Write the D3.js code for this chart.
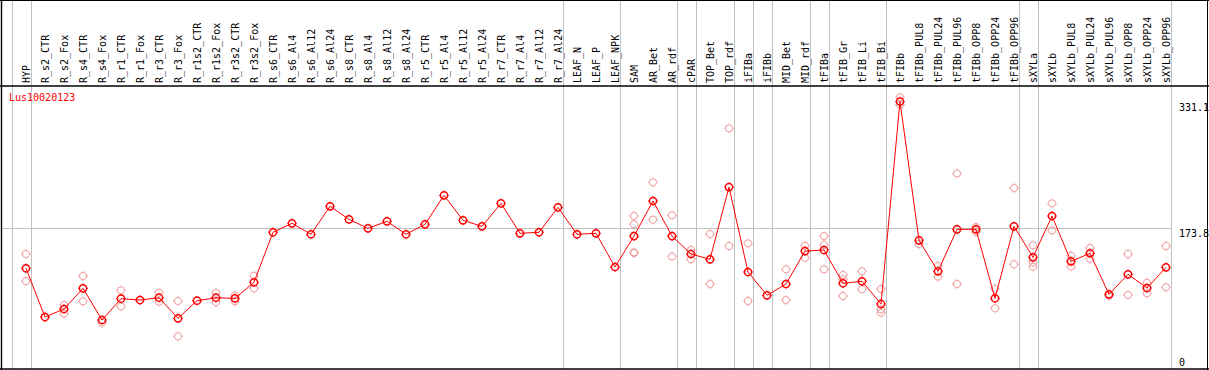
<!DOCTYPE html>
<html lang="en">
<head>
  <meta charset="UTF-8">
  <script src="https://d3js.org/d3.v7.min.js"></script>
  <title>Lus10020123</title>
  <style>
    body { margin: 0; background: #fff; }
    text { font-family: "DejaVu Sans Mono", monospace; font-size: 10px; }
  </style>
</head>
<body>
<script>
  // sample names (columns)
  let categories = ['HYP', 'R_s2_CTR', 'R_s2_Fox', 'R_s4_CTR', 'R_s4_Fox', 'R_r1_CTR', 'R_r1_Fox',
    'R_r3_CTR', 'R_r3_Fox', 'R_r1s2_CTR', 'R_r1s2_Fox', 'R_r3s2_CTR', 'R_r3s2_Fox',
    'R_s6_CTR', 'R_s6_Al4', 'R_s6_Al12', 'R_s6_Al24', 'R_s8_CTR', 'R_s8_Al4', 'R_s8_Al12', 'R_s8_Al24',
    'R_r5_CTR', 'R_r5_Al4', 'R_r5_Al12', 'R_r5_Al24', 'R_r7_CTR', 'R_r7_Al4', 'R_r7_Al12', 'R_r7_Al24',
    'LEAF_N', 'LEAF_P', 'LEAF_NPK', 'SAM', 'AR_Bet', 'AR_rdf', 'cPAR', 'TOP_Bet', 'TOP_rdf',
    'iFIBa', 'iFIBb', 'MID_Bet', 'MID_rdf', 'tFIBa', 'tFIB_Gr', 'tFIB_Li', 'tFIB_Bi',
    'tFIBb', 'tFIBb_PUL8', 'tFIBb_PUL24', 'tFIBb_PUL96', 'tFIBb_OPP8', 'tFIBb_OPP24', 'tFIBb_OPP96',
    'sXYLa', 'sXYLb', 'sXYLb_PUL8', 'sXYLb_PUL24', 'sXYLb_PUL96', 'sXYLb_OPP8', 'sXYLb_OPP24', 'sXYLb_OPP96']

  // mean expression
  let means = [123.1, 62.3, 72.3, 98.1, 58.6, 85.2, 83.5, 86.4, 60.7, 82.7, 86.4, 85.6, 105.6,
    168.0, 179.2, 165.5, 200.4, 184.1, 172.9, 181.7, 165.5, 177.9, 214.1, 182.9, 175.4,
    204.1, 166.7, 168.0, 199.1, 165.5, 166.7, 124.7, 163.3, 207.0, 163.3, 140.9, 134.3, 224.4,
    118.5, 89.4, 103.5, 144.6, 145.9, 104.4, 106.9, 78.6,
    331.1, 158.0, 119.3, 171.7, 171.7, 85.7, 175.4,
    136.8, 188.3, 131.8, 141.8, 90.6, 115.6, 98.5, 124.3]

  // replicate values
  let replicates = [[140.9, 107.2], [], [77.3, 66.5], [113.5, 81.9], [55.2], [95.6, 75.7], [],
    [92.6, 81.4], [82.3, 38.3], [], [92.6, 81.0], [89.4, 81.9], [113.5, 98.1],
    [], [], [], [], [], [], [], [], [], [], [], [], [], [], [], [], [], [],
    [], [188.3, 177.9, 143.0, 142.0], [230.3, 183.7], [189.1, 138.0], [145.9, 134.3], [165.8, 103.5], [297.6, 150.9],
    [154.2, 82.3], [], [121.8, 83.5], [151.2, 136.3], [163.3, 152.1, 121.8], [114.7, 109.4, 88.5], [119.3, 96.9], [97.3, 71.9, 67.7],
    [336.3, 327.1], [153.4], [125.9, 112.6], [241.4, 103.5], [174.6, 168.3], [97.6, 73.2], [223.2, 128.1],
    [151.7, 130.5, 125.1], [204.1, 170.4], [138.8, 125.1], [148.4, 135.0], [88.9], [140.9, 89.8], [105.1, 91.9], [150.9, 99.4]]

  // group separators: a line right after each of these samples
  let groupEnds = ['HYP', 'R_r7_Al24', 'LEAF_NPK', 'AR_rdf', 'cPAR', 'TOP_rdf', 'iFIBa', 'iFIBb',
    'MID_rdf', 'tFIBa', 'tFIB_Bi', 'tFIBb_OPP96', 'sXYLa', 'sXYLb_OPP96']

  let yTicks = [0, 173.8, 331.1]
  let geneName = 'Lus10020123'

  let width = 1209
  let height = 370
  let headerH = 86

  let svg = d3.select('body')
    .append('svg')
    .attr('width', width)
    .attr('height', height)

  let x = d3.scalePoint()
    .domain(categories)
    .range([26, 26 + 19 * (categories.length - 1)])

  let y = d3.scaleLinear()
    .domain([0, 331.1])
    .range([367, 101.5])

  // vertical separators
  let seps = [x(categories[0]) - 19 + 4.7].concat(groupEnds.map(d => x(d) + 4.7))
  svg.selectAll('line.sep')
    .data(seps)
    .enter()
    .append('line')
    .attr('x1', d => Math.round(d) + 0.5)
    .attr('x2', d => Math.round(d) + 0.5)
    .attr('y1', 0)
    .attr('y2', height)
    .attr('stroke', '#c0c0c0')

  // horizontal grid line at middle tick
  svg.append('line')
    .attr('x1', 2)
    .attr('x2', 1172)
    .attr('y1', Math.round(y(yTicks[1])) + 0.5)
    .attr('y2', Math.round(y(yTicks[1])) + 0.5)
    .attr('stroke', '#c0c0c0')

  // borders
  svg.append('line').attr('x1', 0).attr('x2', width).attr('y1', 0.5).attr('y2', 0.5).attr('stroke', '#000')
  svg.append('line').attr('x1', 0).attr('x2', width).attr('y1', headerH).attr('y2', headerH).attr('stroke', '#000').attr('stroke-width', 1.6)
  svg.append('line').attr('x1', 0).attr('x2', width).attr('y1', 369).attr('y2', 369).attr('stroke', '#000').attr('stroke-width', 1.6)
  svg.append('line').attr('x1', 1.5).attr('x2', 1.5).attr('y1', 0).attr('y2', height).attr('stroke', '#000').attr('stroke-width', 1.4)
  svg.append('line').attr('x1', 1207.5).attr('x2', 1207.5).attr('y1', 0).attr('y2', height).attr('stroke', '#000')

  // column labels
  svg.selectAll('text.lab')
    .data(categories)
    .enter()
    .append('text')
    .attr('transform', d => 'translate(' + (x(d) + 3.5) + ',83) rotate(-90)')
    .attr('fill', '#000')
    .text(d => d)

  // y labels
  svg.selectAll('text.yl')
    .data(yTicks)
    .enter()
    .append('text')
    .attr('x', 1179)
    .attr('y', d => Math.min(y(d) + 9, 366))
    .attr('fill', '#000')
    .text(d => d)

  svg.append('text')
    .attr('x', 9)
    .attr('y', 101)
    .attr('fill', 'red')
    .text(geneName)

  // marker: circle with small ticks
  function marker(g, cx, cy, color, sw) {
    let m = g.append('g').attr('transform', 'translate(' + cx + ',' + cy + ')')
    m.append('circle').attr('r', 3.6).attr('fill', 'none').attr('stroke', color).attr('stroke-width', sw)
    let ticks = [[0, -4, 0, -4.8], [0, 4, 0, 4.8], [-4, 0, -4.8, 0], [4, 0, 4.8, 0]]
    ticks.forEach(t => {
      m.append('line').attr('x1', t[0]).attr('y1', t[1]).attr('x2', t[2]).attr('y2', t[3])
        .attr('stroke', color).attr('stroke-width', 1)
    })
  }

  // replicate points
  let repG = svg.append('g')
  categories.forEach((c, i) => {
    replicates[i].forEach(v => marker(repG, x(c), y(v), '#f09a9a', 1))
  })

  // mean line
  let line = d3.line()
    .x((d, i) => x(categories[i]))
    .y(d => y(d))

  svg.append('path')
    .datum(means)
    .attr('d', line)
    .attr('fill', 'none')
    .attr('stroke', 'red')
    .attr('stroke-width', 1)

  let meanG = svg.append('g')
  means.forEach((v, i) => marker(meanG, x(categories[i]), y(v), 'red', 1.5))
</script>
</body>
</html>
